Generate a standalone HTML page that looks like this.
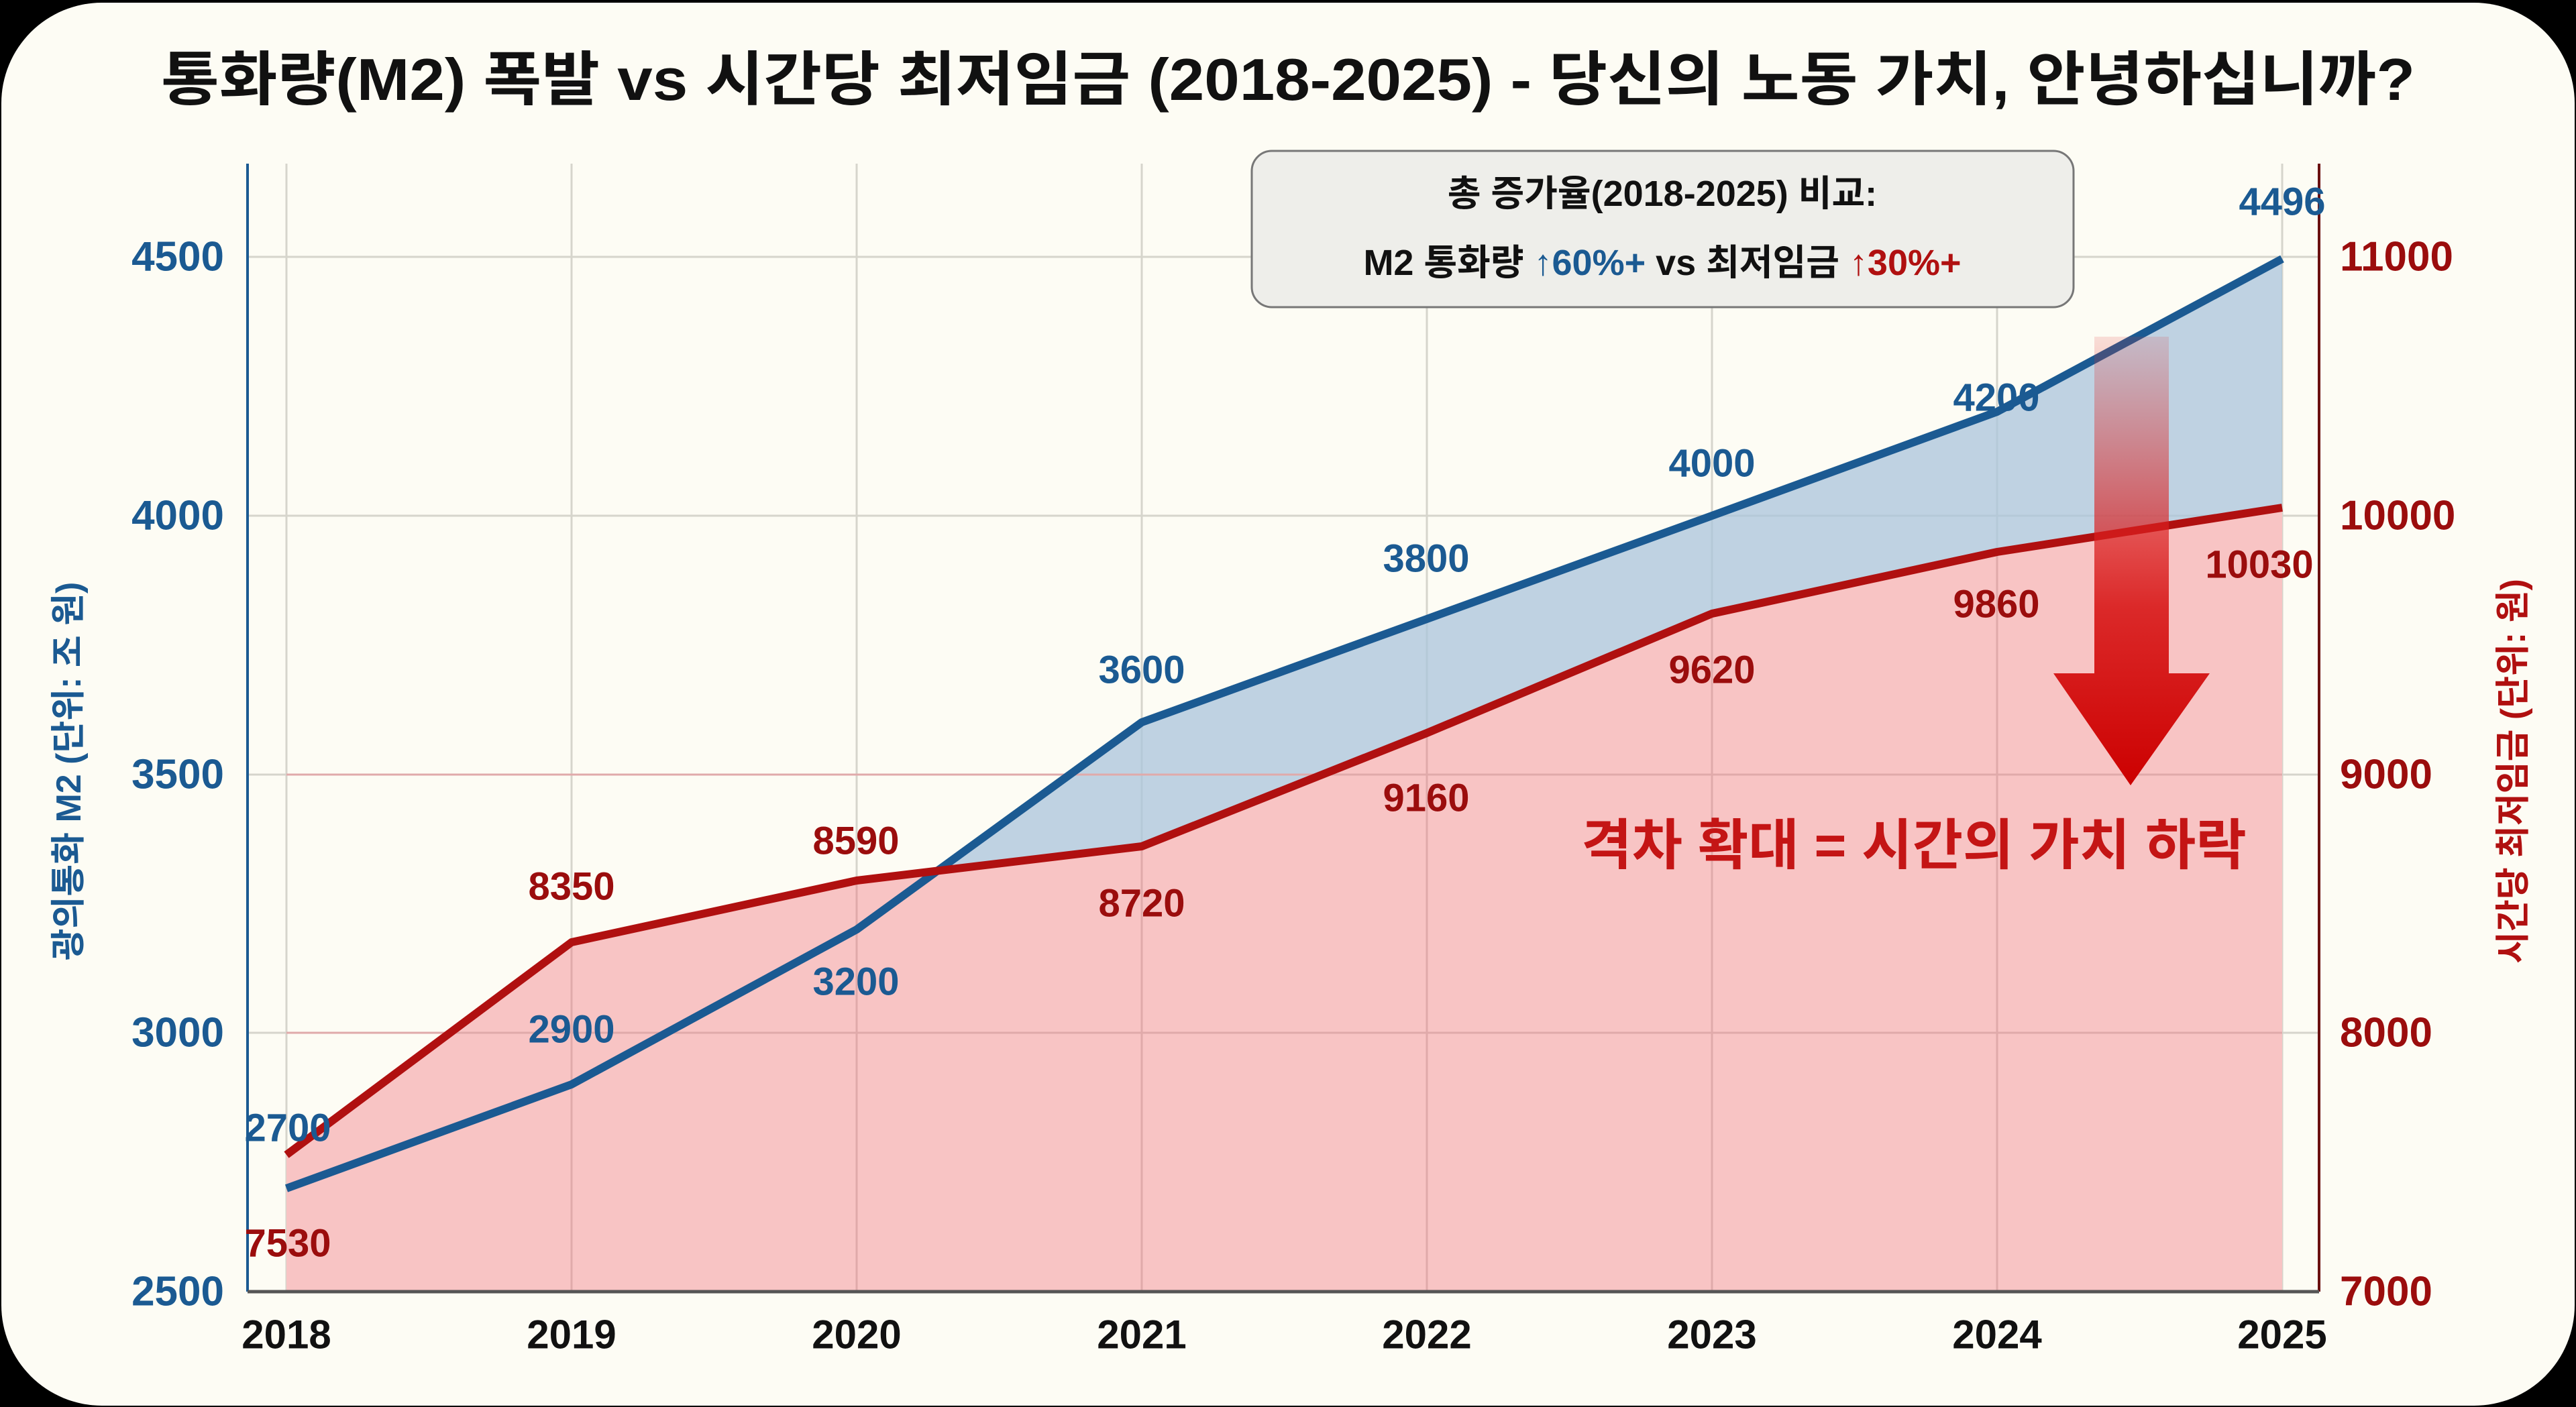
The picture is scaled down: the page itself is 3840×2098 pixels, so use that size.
<!DOCTYPE html>
<html><head><meta charset="utf-8"><style>
html,body{margin:0;padding:0;background:#000;}
svg{display:block;}
text{font-family:"Liberation Sans","Noto Sans CJK KR",sans-serif;font-weight:bold;}
</style></head><body>
<svg width="3840" height="2098" viewBox="0 0 3840 2098" xmlns="http://www.w3.org/2000/svg">
<defs>
<linearGradient id="ag" x1="0" y1="0" x2="0" y2="1">
<stop offset="0" stop-color="#e03030" stop-opacity="0.15"/>
<stop offset="0.6" stop-color="#d81818" stop-opacity="0.9"/>
<stop offset="1" stop-color="#cc0000" stop-opacity="1"/>
</linearGradient>
</defs>
<rect x="0" y="0" width="3840" height="2098" fill="#000"/>
<rect x="2" y="4" width="3836" height="2092" rx="150" ry="150" fill="#fdfcf4"/>
<text x="1920" y="149" font-size="88" text-anchor="middle" fill="#111" textLength="3360" lengthAdjust="spacingAndGlyphs">통화량(M2) 폭발 vs 시간당 최저임금 (2018-2025) - 당신의 노동 가치, 안녕하십니까?</text>
<g stroke="#d6d5cc" stroke-width="3">
<line x1="369" y1="383" x2="3457" y2="383"/><line x1="369" y1="769" x2="3457" y2="769"/>
<line x1="369" y1="1155" x2="3457" y2="1155"/><line x1="369" y1="1540" x2="3457" y2="1540"/>
<line x1="427" y1="244" x2="427" y2="1926"/><line x1="852" y1="244" x2="852" y2="1926"/>
<line x1="1277" y1="244" x2="1277" y2="1926"/><line x1="1702" y1="244" x2="1702" y2="1926"/>
<line x1="2127" y1="244" x2="2127" y2="1926"/><line x1="2552" y1="244" x2="2552" y2="1926"/>
<line x1="2977" y1="244" x2="2977" y2="1926"/><line x1="3402" y1="244" x2="3402" y2="1926"/>
</g>
<polygon fill="#aac4dc" fill-opacity="0.75" points="427,1772 852,1617 1277,1386 1702,1077 2127,923 2552,769 2977,614 3402,386 3402,757 2977,823 2552,915 2127,1093 1702,1262 1277,1313 852,1405 427,1722"/>
<polygon fill="#f8c4c4" points="427,1722 852,1405 1277,1313 1702,1262 2127,1093 2552,915 2977,823 3402,757 3402,1926 427,1926"/>
<g stroke="#e0aaaa" stroke-width="3">
<line x1="427" y1="1540" x2="3402" y2="1540"/><line x1="427" y1="1155" x2="3402" y2="1155"/>
<line x1="852" y1="1405" x2="852" y2="1926"/><line x1="1277" y1="1313" x2="1277" y2="1926"/>
<line x1="1702" y1="1262" x2="1702" y2="1926"/><line x1="2127" y1="1093" x2="2127" y2="1926"/>
<line x1="2552" y1="915" x2="2552" y2="1926"/><line x1="2977" y1="823" x2="2977" y2="1926"/>
</g>
<polyline fill="none" stroke="#1b5a92" stroke-width="12" stroke-linejoin="round" points="427,1772 852,1617 1277,1386 1702,1077 2127,923 2552,769 2977,614 3402,386"/>
<polyline fill="none" stroke="#b01010" stroke-width="12" stroke-linejoin="round" points="427,1722 852,1405 1277,1313 1702,1262 2127,1093 2552,915 2977,823 3402,757"/>
<line x1="369" y1="244" x2="369" y2="1926" stroke="#1b5a92" stroke-width="4"/>
<line x1="3457" y1="244" x2="3457" y2="1926" stroke="#6a1010" stroke-width="4"/>
<line x1="369" y1="1926" x2="3457" y2="1926" stroke="#555" stroke-width="5"/>
<g font-size="62" fill="#1b5a92" text-anchor="end" dominant-baseline="central">
<text x="334" y="383">4500</text><text x="334" y="769">4000</text><text x="334" y="1155">3500</text><text x="334" y="1540">3000</text><text x="334" y="1926">2500</text>
</g>
<g font-size="62" fill="#9b0d0d" dominant-baseline="central">
<text x="3488" y="383">11000</text><text x="3488" y="769">10000</text><text x="3488" y="1155">9000</text><text x="3488" y="1540">8000</text><text x="3488" y="1926">7000</text>
</g>
<g font-size="60" fill="#111" text-anchor="middle" dominant-baseline="central">
<text x="427" y="1990">2018</text><text x="852" y="1990">2019</text><text x="1277" y="1990">2020</text><text x="1702" y="1990">2021</text><text x="2127" y="1990">2022</text><text x="2552" y="1990">2023</text><text x="2977" y="1990">2024</text><text x="3402" y="1990">2025</text>
</g>
<text transform="translate(103,1150) rotate(-90)" font-size="52" fill="#1b5a92" text-anchor="middle" dominant-baseline="central">광의통화 M2 (단위: 조 원)</text>
<text transform="translate(3747,1150) rotate(-90)" font-size="52" fill="#b01010" text-anchor="middle" dominant-baseline="central">시간당 최저임금 (단위: 원)</text>
<g font-size="58" fill="#1b5a92" text-anchor="middle" dominant-baseline="central">
<text x="429" y="1682">2700</text><text x="852" y="1535">2900</text><text x="1276" y="1464">3200</text><text x="1702" y="999">3600</text><text x="2126" y="833">3800</text><text x="2552" y="691">4000</text><text x="2976" y="593">4200</text><text x="3402" y="301">4496</text>
</g>
<g font-size="58" fill="#9b0d0d" text-anchor="middle" dominant-baseline="central">
<text x="429" y="1854">7530</text><text x="852" y="1322">8350</text><text x="1276" y="1254">8590</text><text x="1702" y="1347">8720</text><text x="2126" y="1190">9160</text><text x="2552" y="999">9620</text><text x="2976" y="901">9860</text><text x="3368" y="842">10030</text>
</g>
<rect x="1866" y="225" width="1225" height="233" rx="30" fill="#eeeeea" stroke="#777" stroke-width="3"/>
<text x="2478" y="289" font-size="54" fill="#111" text-anchor="middle" dominant-baseline="central">총 증가율(2018-2025) 비교:</text>
<text x="2478" y="392" font-size="54" text-anchor="middle" dominant-baseline="central"><tspan fill="#111">M2 통화량 </tspan><tspan fill="#1b5a92">↑60%+</tspan><tspan fill="#111"> vs 최저임금 </tspan><tspan fill="#b01010">↑30%+</tspan></text>
<polygon fill="url(#ag)" points="3122,502 3233,502 3233,1004 3294,1004 3176,1171 3061,1004 3122,1004"/>
<text x="2853" y="1261" font-size="82" fill="#c41515" text-anchor="middle" dominant-baseline="central">격차 확대 = 시간의 가치 하락</text>
</svg>
</body></html>
